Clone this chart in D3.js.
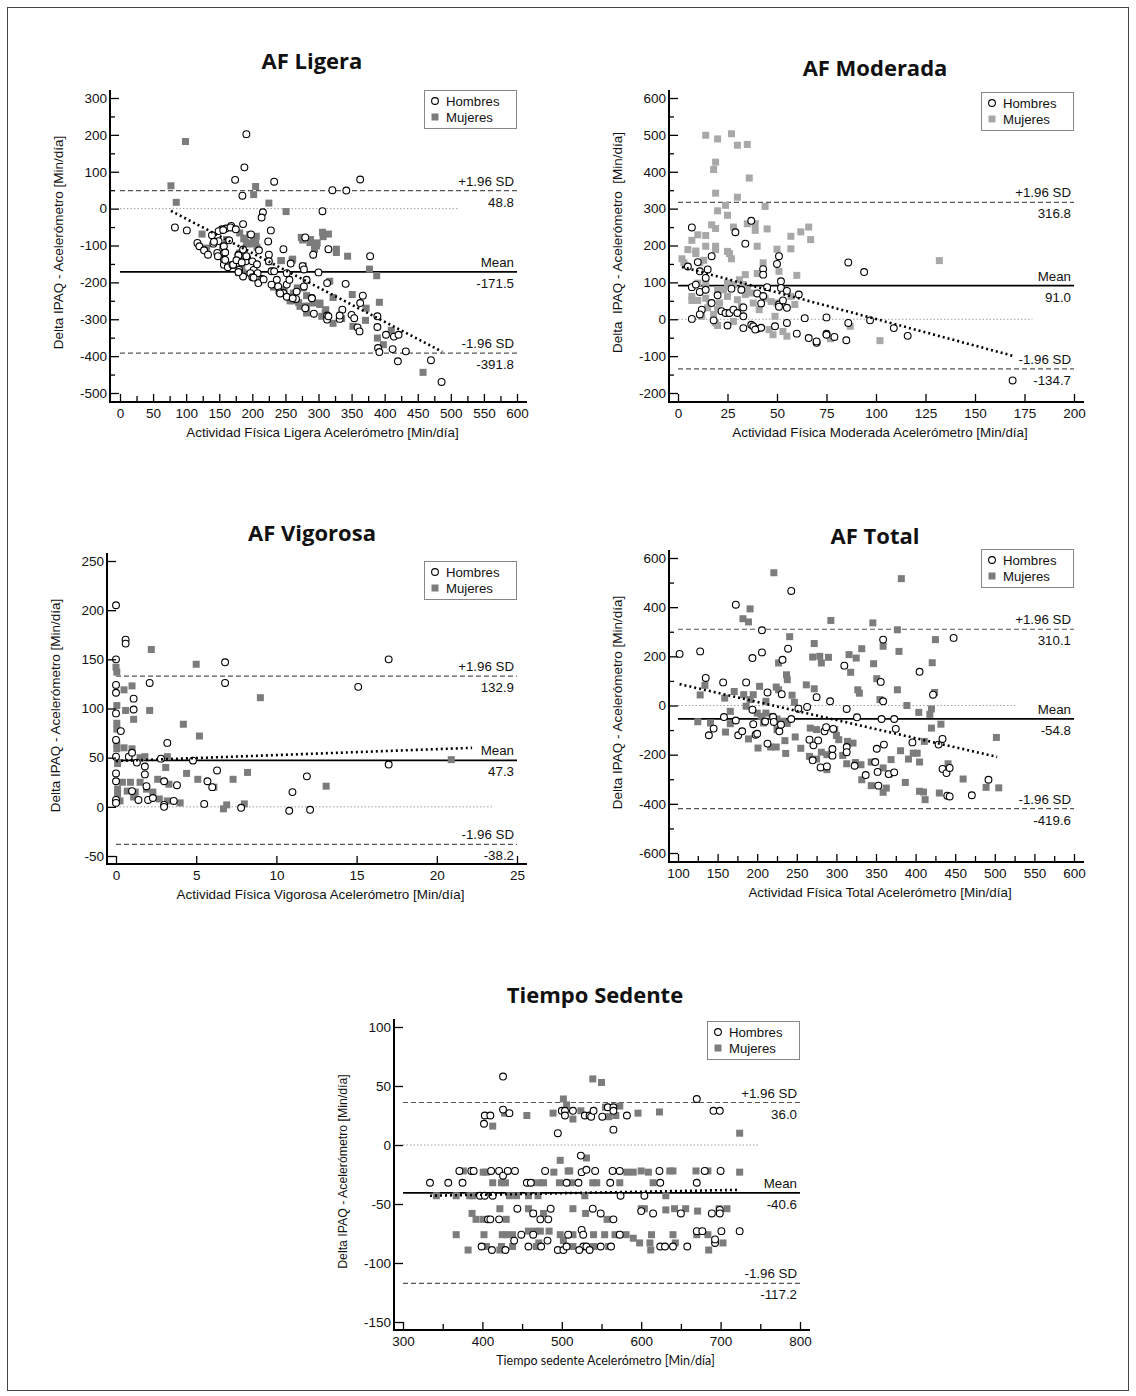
<!DOCTYPE html>
<html>
<head>
<meta charset="utf-8">
<script src="https://cdn.jsdelivr.net/npm/d3@7"></script>
<style>
body { margin: 0; background: #fff; }
text { font-family: "Liberation Sans", Arial, sans-serif; fill: #111; }
</style>
</head>
<body>
<script>
// ---- AF Ligera
var ligeraHombres = [
[191,202],[188,112],[174,78],[233,73],[185,35],[321,50],[342,49],[363,79],[306,-7],[216,-10],[214,-24],
[83,-51],[101,-59],[186,-42],[168,-47],[160,-54],[154,-56],[228,-59],[224,-89],[247,-110],[210,-113],
[198,-70],[117,-93],[120,-102],[127,-113],[133,-125],[141,-95],[147,-120],[149,-88],[157,-102],[157,-120],
[157,-138],[157,-152],[164,-154],[163,-159],[170,-153],[165,-86],[179,-125],[178,-147],[180,-166],[186,-111],
[192,-134],[190,-143],[200,-143],[202,-166],[197,-175],[186,-184],[200,-186],[208,-175],[215,-191],[209,-202],
[225,-125],[225,-143],[229,-170],[233,-170],[237,-193],[239,-211],[241,-227],[247,-229],[252,-206],[252,-239],
[256,-193],[258,-149],[252,-175],[266,-245],[276,-156],[278,-165],[280,-78],[278,-211],[280,-270],[282,-193],
[290,-242],[293,-285],[292,-125],[300,-173],[313,-202],[313,-290],[313,-301],[315,-110],[332,-299],[336,-274],
[341,-204],[350,-288],[354,-297],[359,-322],[362,-333],[363,-256],[367,-236],[378,-129],[389,-292],[389,-321],
[390,-378],[392,-389],[402,-342],[412,-381],[414,-347],[421,-342],[420,-414],[432,-387],[470,-411],[486,-470],
[139,-72],[149,-61],[156,-58],[167,-51],[175,-56],[142,-90],[159,-119],[148,-129],[159,-139],[171,-152],
[179,-127],[176,-140],[184,-146],[179,-172],[191,-129],[202,-187],[207,-151],[217,-192],[229,-206],[242,-230],
[261,-243],[267,-225],[290,-243],[315,-292],[332,-290]
];
var ligeraMujeres = [
[77,62],[85,17],[99,182],[205,60],[202,38],[225,15],[251,-8],[124,-69],[131,-107],[155,-102],[161,-84],
[181,-66],[187,-82],[196,-70],[202,-84],[206,-75],[205,-93],[191,-93],[181,-120],[181,-138],[184,-156],
[186,-174],[179,-174],[243,-141],[260,-140],[274,-78],[288,-84],[298,-93],[294,-111],[306,-64],[315,-69],
[327,-110],[344,-129],[377,-164],[388,-182],[392,-254],[317,-197],[322,-241],[351,-233],[372,-270],[371,-303],
[352,-319],[335,-298],[322,-311],[305,-292],[311,-274],[302,-256],[282,-236],[277,-215],[268,-215],[262,-229],
[257,-250],[248,-220],[232,-213],[272,-265],[292,-256],[389,-351],[398,-369],[410,-330],[458,-444],
[189,-80],[196,-96],[207,-105],[181,-155],[188,-137],[225,-144],[244,-141],[261,-137],[277,-155],[276,-85],
[287,-92],[297,-101],[307,-76],[327,-119],[242,-218],[260,-250],[270,-255],[282,-264],[282,-283],[302,-260],
[310,-283]
];
var ligeraLimits = [48.8, -171.5, -391.8];
var ligeraRegression = [[77,-6],[487,-388]];
var ligeraXTicks = [0,50,100,150,200,250,300,350,400,450,500,550,600];
var ligeraYTicks = [300,200,100,0,-100,-200,-300,-400,-500];

// ---- AF Moderada
var moderadaHombres = [
[7,249],[29,236],[34,205],[37,267],[17,171],[5,143],[10,155],[15,135],[11,130],[14,112],[7,87],[9,94],
[11,74],[14,80],[20,65],[17,44],[27,83],[32,80],[12,26],[11,13],[7,1],[18,-3],[22,22],[24,17],[26,17],
[28,26],[30,17],[25,-17],[33,32],[33,8],[33,-24],[37,-15],[38,-19],[40,-26],[42,-23],[39,-28],[40,70],
[43,63],[42,43],[43,136],[43,121],[45,87],[49,-19],[50,150],[51,171],[52,103],[52,85],[51,40],[51,34],
[53,51],[55,77],[55,31],[55,-10],[61,67],[60,-39],[64,3],[66,-51],[70,-64],[70,-60],[75,5],[75,-39],
[75,-42],[79,-48],[85,-57],[86,154],[86,-10],[94,128],[97,-3],[109,-24],[116,-45],[169,-166]
];
var moderadaMujeres = [
[14,499],[27,503],[20,489],[30,472],[35,474],[19,426],[18,406],[36,383],[19,342],[30,331],[24,309],[20,294],
[25,282],[44,306],[17,256],[28,250],[19,246],[35,259],[39,259],[39,241],[45,245],[10,229],[14,227],[7,214],
[5,189],[9,185],[9,178],[14,198],[19,198],[19,189],[25,184],[26,178],[27,164],[13,160],[11,153],[2,164],
[3,153],[40,198],[50,190],[57,225],[57,191],[62,237],[66,250],[67,216],[60,119],[51,130],[43,153],[40,124],
[34,121],[31,107],[28,94],[33,94],[23,80],[25,62],[20,80],[14,98],[10,98],[7,62],[7,51],[10,51],[14,57],
[16,44],[21,44],[15,31],[18,13],[12,8],[19,-10],[20,-17],[28,-6],[41,26],[38,44],[32,35],[30,53],[37,71],
[44,57],[47,48],[49,8],[48,-42],[46,-28],[53,-33],[55,-46],[50,44],[57,62],[59,40],[77,-53],[87,-19],
[102,-58],[132,159],[34,67],[25,98],[35,80],[20,26]
];
var moderadaLimits = [316.8, 91.0, -134.7];
var moderadaRegression = [[2,142],[169,-99]];
var moderadaXTicks = [0,25,50,75,100,125,150,175,200];
var moderadaYTicks = [600,500,400,300,200,100,0,-100,-200];

// ---- AF Vigorosa
var vigorosaHombres = [
[0,205],[0,150],[0,124],[0,116],[0,95],[0,68],[0,51],[0,34],[0,26],[0,7],[0,4],[0.6,170],[0.6,166],
[0.3,77],[0.8,51],[1.0,55],[1.1,110],[1.1,99],[1.0,16],[1.3,45],[1.4,7],[1.8,41],[1.8,33],[1.9,21],
[2.0,7],[2.1,126],[2.3,9],[2.8,49],[3.0,26],[3.0,2],[3.0,0],[3.2,65],[3.6,6],[3.8,22],[4.8,47],[5.5,3],
[5.7,26],[6.0,20],[6.3,37],[6.8,147],[6.8,126],[7.8,-1],[10.8,-4],[11.0,15],[11.9,31],[12.1,-3],
[15.1,122],[17.0,150],[17.0,43]
];
var vigorosaMujeres = [
[0,142],[0.05,137],[0.05,103],[0.05,85],[0.05,79],[0.05,64],[0.05,59],[0.1,44],[0.1,18],[0.1,13],[0.4,25],
[0.25,6],[0.5,119],[0.6,98],[1.0,123],[1.1,89],[0.5,60],[1.0,59],[0.9,25],[0.7,16],[1.1,10],[1.5,50],
[1.8,51],[1.5,25],[1.2,15],[1.9,18],[2.2,160],[2.1,98],[2.6,28],[2.3,15],[2.7,8],[3.1,40],[3.2,51],
[3.3,23],[3.2,6],[4.0,4],[4.2,84],[4.4,34],[5.0,145],[5.2,72],[5.1,28],[6.1,20],[6.7,-2],[6.9,2],
[7.3,28],[8.0,3],[8.2,35],[9.0,111],[13.1,21],[20.9,48]
];
var vigorosaLimits = [132.9, 47.3, -38.2];
var vigorosaRegression = [[0,46.6],[22.2,60]];
var vigorosaXTicks = [0,5,10,15,20,25];
var vigorosaYTicks = [250,200,150,100,50,0,-50];

// ---- AF Total
var totalHombres = [
[102,210],[128,220],[135,112],[139,-121],[145,-94],[157,94],[158,-47],[173,410],[173,-61],[176,-121],
[181,-105],[186,94],[194,193],[194,-17],[195,-76],[198,-119],[200,-115],[206,306],[206,216],[210,-65],
[213,53],[213,-155],[220,-47],[221,-67],[228,-105],[231,46],[232,186],[230,-78],[239,231],[243,466],
[243,-55],[252,-13],[263,-6],[266,-139],[271,-162],[270,-223],[275,34],[277,-142],[280,-252],[285,-105],
[287,-88],[288,-248],[292,17],[295,-204],[295,-177],[296,-95],[310,162],[313,-14],[313,-169],[313,-190],
[323,-245],[326,-48],[337,-283],[349,-230],[351,-176],[352,-270],[353,-326],[356,96],[357,-55],[359,17],
[359,268],[360,-159],[366,-279],[373,-55],[373,-272],[375,-95],[396,-150],[405,137],[422,44],[429,-159],
[434,-136],[434,-258],[439,-275],[440,-367],[443,-254],[443,-370],[448,275],[471,-365],[492,-302]
];
var totalMujeres = [
[221,540],[382,516],[191,393],[182,353],[189,340],[293,346],[346,336],[377,308],[241,280],[425,268],
[359,241],[379,220],[272,252],[270,197],[279,200],[281,173],[290,196],[316,207],[325,193],[332,231],
[347,170],[318,135],[351,109],[421,174],[227,173],[237,125],[238,105],[224,75],[227,64],[203,78],[262,84],
[272,68],[244,42],[247,13],[327,64],[329,50],[377,64],[389,0],[424,53],[355,24],[404,-28],[420,-14],
[418,-36],[432,-76],[420,-92],[134,82],[128,43],[171,57],[159,30],[183,44],[195,44],[191,24],[186,-3],
[211,17],[211,-31],[200,-31],[205,-44],[208,-71],[219,-44],[225,-55],[232,-64],[238,-73],[166,-24],
[166,-74],[160,-108],[141,-71],[125,-66],[189,-136],[201,-173],[217,-169],[224,-169],[225,-98],[235,-143],
[236,-195],[248,-128],[255,-174],[267,-92],[275,-98],[266,-207],[275,-218],[281,-190],[288,-200],[288,-261],
[298,-98],[300,-122],[303,-139],[308,-203],[314,-146],[321,-153],[313,-237],[324,-232],[331,-241],[332,-302],
[344,-230],[344,-326],[359,-353],[363,-336],[359,-254],[367,-279],[369,-220],[381,-184],[387,-313],[391,-218],
[397,-194],[402,-194],[405,-230],[405,-349],[410,-352],[411,-146],[412,-383],[430,-356],[441,-237],[460,-299],
[489,-333],[505,-335],[502,-130]
];
var totalLimits = [310.1, -54.8, -419.6];
var totalRegression = [[102,87],[503,-209]];
var totalXTicks = [100,150,200,250,300,350,400,450,500,550,600];
var totalYTicks = [600,400,200,0,-200,-400,-600];

// ---- Tiempo Sedente
var sedenteHombres = [
[426,58],[426,30],[434,27],[402,18],[403,25],[410,25],[334,-32],[357,-32],[371,-22],[375,-32],[386,-22],
[389,-22],[397,-43],[403,-43],[413,-43],[411,-22],[421,-22],[426,-26],[432,-22],[441,-22],[407,-63],
[410,-63],[421,-63],[399,-86],[412,-89],[429,-89],[440,-81],[444,-54],[449,-76],[464,-76],[458,-86],
[456,-32],[461,-32],[464,-58],[473,-63],[474,-86],[479,-22],[482,-81],[483,-63],[486,-54],[495,10],
[500,29],[504,29],[504,25],[514,29],[506,-32],[495,-89],[502,-89],[508,-76],[506,-86],[521,-32],[524,-9],
[525,-23],[531,-21],[529,25],[535,25],[537,24],[525,-72],[527,-76],[527,-86],[522,-89],[531,-86],[535,-89],
[539,-54],[542,-22],[540,29],[549,-58],[549,-86],[551,24],[558,32],[565,32],[561,-32],[564,-22],[565,29],
[565,-63],[565,13],[562,-86],[573,-22],[574,-43],[573,-76],[582,25],[600,-56],[604,-43],[615,-58],[623,-22],
[624,-32],[624,-86],[630,-86],[640,-86],[650,-58],[658,-86],[670,39],[670,-32],[670,-73],[677,-73],
[680,-22],[691,29],[699,29],[700,-22],[689,-58],[693,-83],[693,-80],[701,-73],[699,-55],[699,-58],[724,-73]
];
var sedenteMujeres = [
[502,39],[506,34],[413,16],[428,27],[456,25],[489,27],[514,22],[524,29],[531,25],[539,56],[550,53],
[555,32],[573,33],[568,25],[559,24],[596,27],[623,28],[724,10],[498,-13],[531,-11],[376,-22],[401,-23],
[405,-23],[424,-32],[429,-32],[413,-32],[463,-32],[472,-32],[477,-32],[490,-23],[508,-22],[510,-22],
[497,-32],[512,-32],[539,-32],[544,-32],[573,-32],[582,-23],[590,-23],[600,-22],[609,-23],[615,-32],
[636,-22],[640,-22],[669,-22],[684,-22],[724,-23],[631,-43],[529,-43],[342,-43],[367,-43],[384,-43],
[388,-43],[434,-43],[443,-43],[458,-43],[470,-43],[422,-54],[387,-58],[392,-63],[401,-63],[430,-63],
[458,-54],[464,-58],[477,-58],[514,-54],[530,-58],[557,-63],[600,-54],[604,-54],[631,-55],[642,-54],
[656,-54],[671,-56],[698,-54],[708,-54],[367,-76],[402,-76],[425,-76],[430,-76],[438,-76],[458,-73],
[467,-73],[473,-73],[484,-73],[498,-76],[514,-76],[540,-76],[554,-76],[567,-76],[590,-79],[598,-83],
[613,-76],[640,-76],[670,-76],[684,-76],[382,-89],[405,-86],[424,-86],[438,-86],[468,-86],[502,-81],
[514,-86],[540,-86],[559,-86],[611,-83],[612,-89],[643,-83],[685,-89],[703,-83],[422,-89],[471,-83],[581,-76]
];
var sedenteLimits = [36.0, -40.6, -117.2];
var sedenteRegression = [[334,-43],[724,-38]];
var sedenteXTicks = [300,400,500,600,700,800];
var sedenteYTicks = [100,50,0,-50,-100,-150];

// layout of the five panels (pixels)
var panels = [
  { title: "AF Ligera", tx: 312, ty: 69, ax: 110, x0: 120, x1: 517, y0: 98, y1: 393, xAxisY: 402,
    xDom: [0,600], yDom: [300,-500], xTicks: ligeraXTicks, yTicks: ligeraYTicks, xMinor: 25, yMinor: 50,
    zeroEnd: 510, legTop: 90, sqColor: "#7c7c7c",
    xLabel: "Actividad Física Ligera Acelerómetro [Min/día]", yLabel: "Delta IPAQ - Acelerómetro [Min/día]",
    hombres: ligeraHombres, mujeres: ligeraMujeres, limits: ligeraLimits, reg: ligeraRegression },
  { title: "AF Moderada", tx: 875, ty: 76, ax: 669, x0: 678, x1: 1074, y0: 98, y1: 393, xAxisY: 402,
    xDom: [0,200], yDom: [600,-200], xTicks: moderadaXTicks, yTicks: moderadaYTicks, xMinor: null, yMinor: 50,
    zeroEnd: 179, legTop: 92, sqColor: "#a8a8a8",
    xLabel: "Actividad Física Moderada Acelerómetro [Min/día]", yLabel: "Delta  IPAQ - Acelerómetro  [Min/día]",
    hombres: moderadaHombres, mujeres: moderadaMujeres, limits: moderadaLimits, reg: moderadaRegression },
  { title: "AF Vigorosa", tx: 312, ty: 541, ax: 107, x0: 116, x1: 517, y0: 561, y1: 856, xAxisY: 864,
    xDom: [0,25], yDom: [250,-50], xTicks: vigorosaXTicks, yTicks: vigorosaYTicks, xMinor: null, yMinor: null,
    zeroEnd: 23.5, legTop: 561, sqColor: "#7c7c7c",
    xLabel: "Actividad Física Vigorosa Acelerómetro [Min/día]", yLabel: "Delta IPAQ - Acelerómetro [Min/día]",
    hombres: vigorosaHombres, mujeres: vigorosaMujeres, limits: vigorosaLimits, reg: vigorosaRegression },
  { title: "AF Total", tx: 875, ty: 544, ax: 669, x0: 678, x1: 1074, y0: 558, y1: 853, xAxisY: 862,
    xDom: [100,600], yDom: [600,-600], xTicks: totalXTicks, yTicks: totalYTicks, xMinor: 25, yMinor: 100,
    zeroEnd: 528, legTop: 549, sqColor: "#7c7c7c",
    xLabel: "Actividad Física Total Acelerómetro [Min/día]", yLabel: "Delta IPAQ - Acelerómetro [Min/día]",
    hombres: totalHombres, mujeres: totalMujeres, limits: totalLimits, reg: totalRegression },
  { title: "Tiempo Sedente", tx: 595, ty: 1003, ax: 394, x0: 403, x1: 800, y0: 1027, y1: 1322, xAxisY: 1330,
    xDom: [300,800], yDom: [100,-150], xTicks: sedenteXTicks, yTicks: sedenteYTicks, xMinor: 50, yMinor: null,
    zeroEnd: 748, legTop: 1021, sqColor: "#7c7c7c", xFont: "Lato, sans-serif", xFontSize: 12.5, yFontSize: 12.3,
    xLabel: "Tiempo sedente Acelerómetro [Min/día]", yLabel: "Delta IPAQ - Acelerómetro [Min/día]",
    hombres: sedenteHombres, mujeres: sedenteMujeres, limits: sedenteLimits, reg: sedenteRegression }
];

// plain hyphen for negative tick labels, as in the original figure
var plain = function(d) { return String(d); };

var svg = d3.select("body").append("svg")
  .attr("width", 1136)
  .attr("height", 1396);

svg.append("rect")
  .attr("x", 7.5).attr("y", 7.5)
  .attr("width", 1121).attr("height", 1383)
  .attr("fill", "none")
  .attr("stroke", "#444")
  .attr("stroke-width", 1);

panels.forEach(function(p) {
  var g = svg.append("g");
  var x = d3.scaleLinear().domain(p.xDom).range([p.x0, p.x1]);
  var y = d3.scaleLinear().domain(p.yDom).range([p.y0, p.y1]);

  // title
  g.append("text")
    .attr("x", p.tx).attr("y", p.ty)
    .attr("text-anchor", "middle")
    .style("font-family", "'Open Sans', Lato, sans-serif")
    .style("font-weight", "bold")
    .style("font-size", "22px")
    .text(p.title);

  // zero line
  g.append("line")
    .attr("x1", x(p.xDom[0])).attr("x2", x(p.zeroEnd))
    .attr("y1", y(0)).attr("y2", y(0))
    .attr("stroke", "#a0a0a0").attr("stroke-width", 1)
    .attr("stroke-dasharray", "1.5,2");

  // limits of agreement and mean
  p.limits.forEach(function(v, i) {
    g.append("line")
      .attr("x1", x(p.xDom[0])).attr("x2", x(p.xDom[1]))
      .attr("y1", y(v)).attr("y2", y(v))
      .attr("stroke", i == 1 ? "#000" : "#555")
      .attr("stroke-width", i == 1 ? 1.8 : 1.2)
      .attr("stroke-dasharray", i == 1 ? null : "5,3");
  });

  // points
  var sq = 7;
  g.selectAll("rect.muj")
    .data(p.mujeres)
    .enter()
    .append("rect")
    .attr("class", "muj")
    .attr("x", function(d) { return x(d[0]) - sq / 2; })
    .attr("y", function(d) { return y(d[1]) - sq / 2; })
    .attr("width", sq).attr("height", sq)
    .attr("fill", p.sqColor);

  g.selectAll("circle.hom")
    .data(p.hombres)
    .enter()
    .append("circle")
    .attr("class", "hom")
    .attr("cx", function(d) { return x(d[0]); })
    .attr("cy", function(d) { return y(d[1]); })
    .attr("r", 3.4)
    .attr("fill", "#fff")
    .attr("stroke", "#000")
    .attr("stroke-width", 1.1);

  // regression line
  g.append("line")
    .attr("x1", x(p.reg[0][0])).attr("y1", y(p.reg[0][1]))
    .attr("x2", x(p.reg[1][0])).attr("y2", y(p.reg[1][1]))
    .attr("stroke", "#000").attr("stroke-width", 2.6)
    .attr("stroke-dasharray", "2,3");

  // limit labels
  var names = ["+1.96 SD", "Mean", "-1.96 SD"];
  p.limits.forEach(function(v, i) {
    g.append("text")
      .attr("x", p.x1 - 3).attr("y", y(v) - 5)
      .attr("text-anchor", "end")
      .style("font-size", "13.3px")
      .text(names[i]);
    g.append("text")
      .attr("x", p.x1 - 3).attr("y", y(v) + 16)
      .attr("text-anchor", "end")
      .style("font-size", "13.3px")
      .text(v.toFixed(1));
  });

  // axes
  var yAxis = d3.axisLeft(y).tickValues(p.yTicks).tickFormat(plain)
    .tickSizeInner(-9).tickSizeOuter(0).tickPadding(3);
  g.append("g").attr("transform", "translate(" + p.ax + ",0)").call(yAxis);
  if (p.yMinor) {
    var ym = d3.range(p.yDom[1], p.yDom[0], p.yMinor).filter(function(v) { return p.yTicks.indexOf(v) < 0; });
    g.append("g").attr("transform", "translate(" + p.ax + ",0)")
      .call(d3.axisLeft(y).tickValues(ym).tickSizeInner(-5).tickSizeOuter(0).tickFormat(""));
  }
  var xAxis = d3.axisBottom(x).tickValues(p.xTicks).tickFormat(plain)
    .tickSizeInner(-8).tickSizeOuter(0).tickPadding(6);
  g.append("g").attr("transform", "translate(0," + p.xAxisY + ")").call(xAxis);
  if (p.xMinor) {
    var xm = d3.range(p.xDom[0], p.xDom[1], p.xMinor).filter(function(v) { return p.xTicks.indexOf(v) < 0; });
    g.append("g").attr("transform", "translate(0," + p.xAxisY + ")")
      .call(d3.axisBottom(x).tickValues(xm).tickSizeInner(-6).tickSizeOuter(0).tickFormat(""));
  }
  g.selectAll(".domain").remove();
  g.selectAll(".tick line").attr("stroke", "#000").attr("stroke-width", 1.3);
  g.selectAll(".tick text")
    .style("font-family", "'Liberation Sans', Arial, sans-serif")
    .style("font-size", "13.5px")
    .attr("fill", "#111");

  // axis lines
  g.append("path")
    .attr("d", "M" + p.ax + "," + (p.y0 - 8) + "V" + p.xAxisY + "H" + (p.x1 + 10))
    .attr("fill", "none")
    .attr("stroke", "#000")
    .attr("stroke-width", 2);

  // axis titles
  g.append("text")
    .attr("x", (p.x0 + p.x1) / 2 + 4).attr("y", p.xAxisY + 35)
    .attr("text-anchor", "middle")
    .style("font-family", p.xFont || "'Liberation Sans', Arial, sans-serif")
    .style("font-size", (p.xFontSize || 13.4) + "px")
    .style("white-space", "pre")
    .text(p.xLabel);

  g.append("text")
    .attr("transform", "translate(" + (p.ax - 47) + "," + ((p.y0 + p.y1) / 2 - 3) + ") rotate(-90)")
    .attr("text-anchor", "middle")
    .style("font-size", (p.yFontSize || 13.5) + "px")
    .style("white-space", "pre")
    .text(p.yLabel);

  // legend
  var lx = p.x1 - 93, ly = p.legTop;
  g.append("rect")
    .attr("x", lx + 0.5).attr("y", ly + 0.5)
    .attr("width", 92).attr("height", 38)
    .attr("fill", "#fff")
    .attr("stroke", "#888");
  g.append("circle")
    .attr("cx", lx + 11).attr("cy", ly + 11).attr("r", 3.4)
    .attr("fill", "#fff").attr("stroke", "#000").attr("stroke-width", 1.1);
  g.append("rect")
    .attr("x", lx + 7.5).attr("y", ly + 23.5).attr("width", 7).attr("height", 7)
    .attr("fill", p.sqColor);
  g.append("text")
    .attr("x", lx + 22).attr("y", ly + 16)
    .style("font-size", "13.2px")
    .text("Hombres");
  g.append("text")
    .attr("x", lx + 22).attr("y", ly + 32)
    .style("font-size", "13.2px")
    .text("Mujeres");
});
</script>
</body>
</html>
